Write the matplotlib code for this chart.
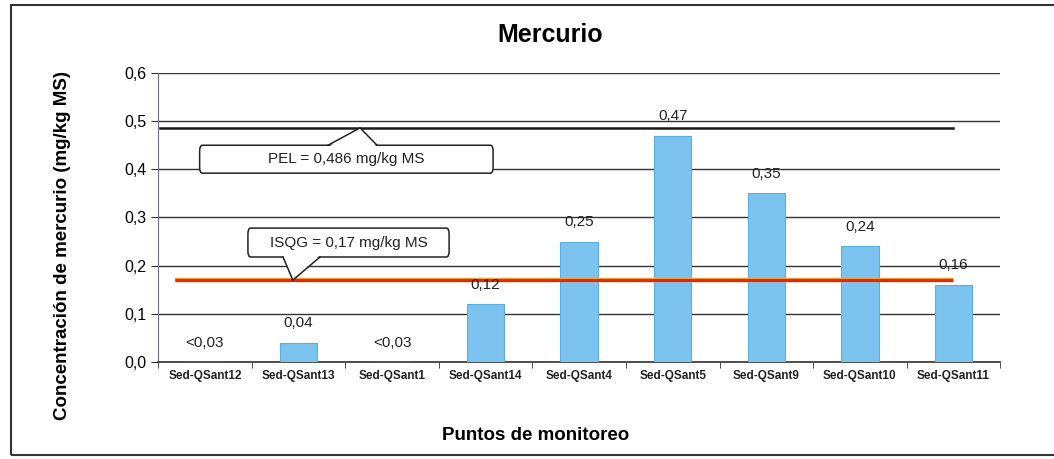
import matplotlib.pyplot as plt
from matplotlib.patches import FancyBboxPatch, Polygon, Rectangle

plt.rcParams['font.family'] = ['Liberation Sans', 'DejaVu Sans']

puntos = ["Sed-QSant12", "Sed-QSant13", "Sed-QSant1", "Sed-QSant14", "Sed-QSant4",
          "Sed-QSant5", "Sed-QSant9", "Sed-QSant10", "Sed-QSant11"]
mercurio = [0, 0.04, 0, 0.12, 0.25, 0.47, 0.35, 0.24, 0.16]
etiquetas = ["<0,03", "0,04", "<0,03", "0,12", "0,25", "0,47", "0,35", "0,24", "0,16"]
pel = 0.486
isqg = 0.17
yticks = [0.0, 0.1, 0.2, 0.3, 0.4, 0.5, 0.6]

fig = plt.figure(figsize=(10.54, 4.59), dpi=100)
ax = fig.add_axes([0.150, 0.2113, 0.799, 0.6297])

x = list(range(len(puntos)))
ax.bar(x, mercurio, width=0.4, color='#7DC3EF', edgecolor='#5AAEE0', linewidth=0.8, zorder=3)

for xi, v, lab in zip(x, mercurio, etiquetas):
    ax.annotate(lab, (xi, v), xytext=(0, 14), textcoords='offset points',
                ha='center', va='center', fontsize=11, color='#222222', zorder=5)

# guideline levels
ax.plot([-0.48, 8.0], [pel, pel], color='#1a1a1a', lw=1.8, zorder=4)
ax.plot([-0.32, 8.0], [isqg, isqg], color='#F5A623', lw=3.2, zorder=4, solid_capstyle='butt')
ax.plot([-0.32, 8.0], [isqg, isqg], color='#E8231B', lw=2.2, zorder=4, solid_capstyle='butt')


def callout(x0, y0, x1, y1, base, tip, text):
    box = FancyBboxPatch((x0, y0), x1 - x0, y1 - y0, boxstyle='round,pad=0,rounding_size=0.03',
                         mutation_aspect=0.4, facecolor='white', edgecolor='#222222', lw=1.1, zorder=6)
    ax.add_patch(box)
    yb = y1 if tip[1] > y1 else y0
    inward = -0.004 if yb == y1 else 0.004
    ax.add_patch(Polygon([(base[0], yb + inward), (base[1], yb + inward), tip],
                         closed=True, facecolor='white', edgecolor='none', zorder=7))
    ax.plot([base[0], tip[0], base[1]], [yb, tip[1], yb], color='#222222', lw=1.1, zorder=8)
    ax.text((x0 + x1) / 2, (y0 + y1) / 2, text, ha='center', va='center',
            fontsize=11, color='#222222', zorder=9)


callout(-0.056, 0.392, 3.08, 0.450, (1.316, 1.84), (1.658, pel), "PEL = 0,486 mg/kg MS")
callout(0.46, 0.218, 2.61, 0.278, (0.835, 1.23), (0.94, isqg), "ISQG = 0,17 mg/kg MS")

ax.set_xlim(-0.5, len(puntos) - 0.5)
ax.set_ylim(0, 0.6)
ax.set_yticks(yticks)
ax.set_yticklabels([f"{t:.1f}".replace('.', ',') for t in yticks], fontsize=11.5)
ax.yaxis.grid(True, color='#333333', lw=1.0, zorder=0)
ax.set_axisbelow(True)

ax.set_xticks(x)
ax.set_xticklabels(puntos, fontsize=8.5, fontweight='bold', color='#222222')
ax.set_xticks([i + 0.5 for i in range(-1, len(puntos))], minor=True)
ax.tick_params(axis='x', which='major', length=0, pad=6)
ax.tick_params(axis='x', which='minor', length=4, color='#333333', direction='out')
ax.tick_params(axis='y', length=5, color='#333333', direction='out')

for s in ['top', 'right']:
    ax.spines[s].set_visible(False)
ax.spines['left'].set_color('#6a6f98')
ax.spines['bottom'].set_color('#333333')
ax.spines['bottom'].set_linewidth(1.2)

fig.text(0.522, 0.924, "Mercurio", ha='center', va='center', fontsize=18, fontweight='bold')
fig.text(0.508, 0.052, "Puntos de monitoreo", ha='center', va='center', fontsize=13.5, fontweight='bold')
fig.text(0.059, 0.466, "Concentración de mercurio (mg/kg MS)", ha='center', va='center',
         rotation=90, fontsize=13.5, fontweight='bold')

fig.add_artist(Rectangle((0.010, 0.008), 1.05, 0.982, transform=fig.transFigure,
                         fill=False, edgecolor='#333333', lw=1.5))

fig.savefig('out.png', dpi=100)
